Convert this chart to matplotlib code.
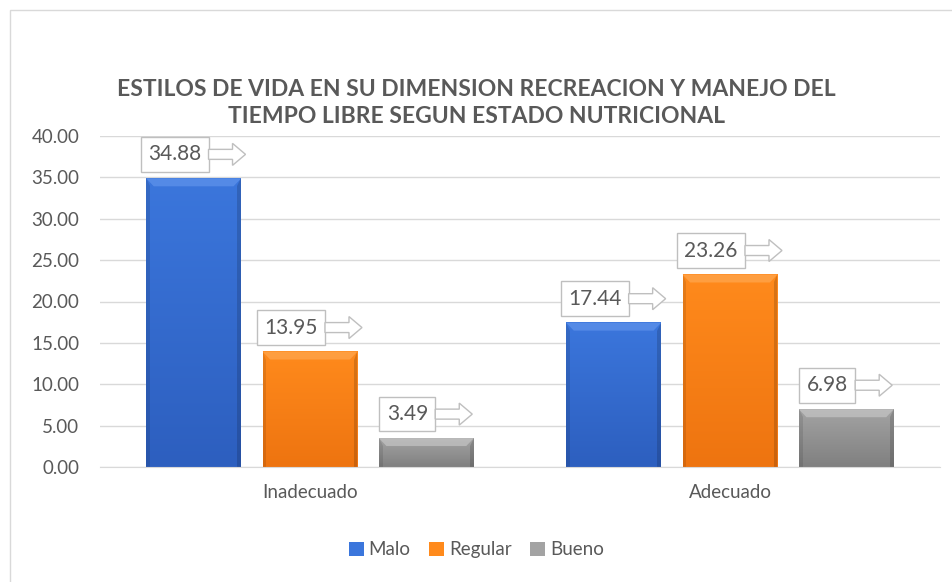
import matplotlib
matplotlib.use("Agg")
import matplotlib.pyplot as plt
import numpy as np
from matplotlib.patches import Polygon, Rectangle
from matplotlib.transforms import IdentityTransform

categories = ["Inadecuado", "Adecuado"]
series = ["Malo", "Regular", "Bueno"]
malo = [34.88, 17.44]
regular = [13.95, 23.26]
bueno = [3.49, 6.98]

title = "ESTILOS DE VIDA EN SU DIMENSION RECREACION Y MANEJO DEL\nTIEMPO LIBRE SEGUN ESTADO NUTRICIONAL"

# (top color, bottom color, bevel color)
colors = [("#3b76dc", "#2d5fbf", "#6a9cf0"),
          ("#ff8a1c", "#ee7410", "#ffb060"),
          ("#a3a3a3", "#808080", "#d0d0d0")]
txt_color = "#595959"
font = "Lato"

fig = plt.figure(figsize=(9.53, 5.82), dpi=100)
ax = fig.add_axes([100 / 953, 115 / 582, 840 / 953, 331 / 582])

# outer chart border
fig.add_artist(Rectangle((10 / 953, -0.1), 1.2, 0.1 + 572 / 582, transform=fig.transFigure,
                         fill=False, edgecolor="#d9d9d9", lw=1))

x = np.arange(len(categories))
width = 0.226
offsets = [-0.277, 0.0, 0.277]
values = [malo, regular, bueno]

ax.set_xlim(-0.5, 1.5)
ax.set_ylim(0, 40)

grad = np.linspace(0, 1, 64).reshape(-1, 1)
bars_all = []
for vals, off, (ctop, cbot, cbev), name in zip(values, offsets, colors, series):
    bars = ax.bar(x + off, vals, width, color=ctop, label=name, zorder=2, edgecolor="none")
    for b in bars:
        x0, w, h = b.get_x(), b.get_width(), b.get_height()
        cmap = matplotlib.colors.LinearSegmentedColormap.from_list("g", [cbot, ctop])
        ax.imshow(grad, extent=(x0, x0 + w, 0, h), origin="lower", cmap=cmap,
                  aspect="auto", zorder=2.1, interpolation="bicubic")
        # top bevel
        bx = w * 0.08
        by = 40 * 0.024
        ax.add_patch(Polygon([(x0, h), (x0 + w, h), (x0 + w - bx, h - by), (x0 + bx, h - by)],
                             closed=True, facecolor=cbev, edgecolor="none", alpha=0.55, zorder=2.2))
        # dark sides
        ax.add_patch(Polygon([(x0 + w, h), (x0 + w, 0), (x0 + w - bx * 0.5, 0), (x0 + w - bx * 0.5, h - by)],
                             closed=True, facecolor="black", edgecolor="none", alpha=0.15, zorder=2.2))
        ax.add_patch(Polygon([(x0, h), (x0, 0), (x0 + bx * 0.5, 0), (x0 + bx * 0.5, h - by)],
                             closed=True, facecolor="black", edgecolor="none", alpha=0.1, zorder=2.2))
    bars_all.append(bars)

ax.set_yticks(np.arange(0, 45, 5))
ax.set_yticklabels([f"{v:.2f}" for v in np.arange(0, 45, 5)])
ax.set_xticks(x)
ax.set_xticklabels(categories)
ax.tick_params(axis="both", length=0, labelsize=13.5, colors=txt_color)
for lab in ax.get_xticklabels() + ax.get_yticklabels():
    lab.set_fontfamily(font)
ax.tick_params(axis="y", pad=15)
ax.tick_params(axis="x", pad=12)
ax.grid(axis="y", color="#d9d9d9", lw=1, zorder=0)
ax.set_axisbelow(True)
for s in ["top", "right", "left"]:
    ax.spines[s].set_visible(False)
ax.spines["bottom"].set_color("#d9d9d9")

fig.text(0.5, 0.823, title, ha="center", va="center", fontsize=16.5, fontweight="bold",
         color=txt_color, family=font, linespacing=1.4)

# data labels with callout box
labels = []
for bars in bars_all:
    for b in bars:
        xc = b.get_x() + b.get_width() / 2
        h = b.get_height()
        t = ax.annotate(f"{h:.2f}", (xc, h), xytext=(-19, 14), textcoords="offset pixels",
                        ha="center", va="bottom", fontsize=15, color=txt_color, family=font,
                        zorder=5,
                        bbox=dict(boxstyle="square,pad=0.35", facecolor="white", edgecolor="#bfbfbf", lw=1))
        labels.append(t)

fig.canvas.draw()
renderer = fig.canvas.get_renderer()
for t in labels:
    bb = t.get_bbox_patch().get_window_extent(renderer)
    x0 = bb.x1
    ym = (bb.y0 + bb.y1) / 2
    sh, hh, sl, hl = 5, 11, 24, 13
    pts = [(x0, ym + sh), (x0 + sl, ym + sh), (x0 + sl, ym + hh), (x0 + sl + hl, ym),
           (x0 + sl, ym - hh), (x0 + sl, ym - sh), (x0, ym - sh)]
    fig.add_artist(Polygon(pts, closed=True, transform=IdentityTransform(),
                           facecolor="white", edgecolor="#bfbfbf", lw=1, zorder=6))

leg = fig.legend(loc="center", bbox_to_anchor=(0.5, 0.055), ncol=3, frameon=False,
                 handlelength=0.8, handleheight=0.8, handletextpad=0.25, columnspacing=1.0,
                 prop={"family": font, "size": 13.5})
for txt in leg.get_texts():
    txt.set_color(txt_color)
for hnd, (ctop, cbot, cbev) in zip(leg.legend_handles, colors):
    hnd.set_facecolor(ctop)

fig.savefig("out.png", dpi=100)
